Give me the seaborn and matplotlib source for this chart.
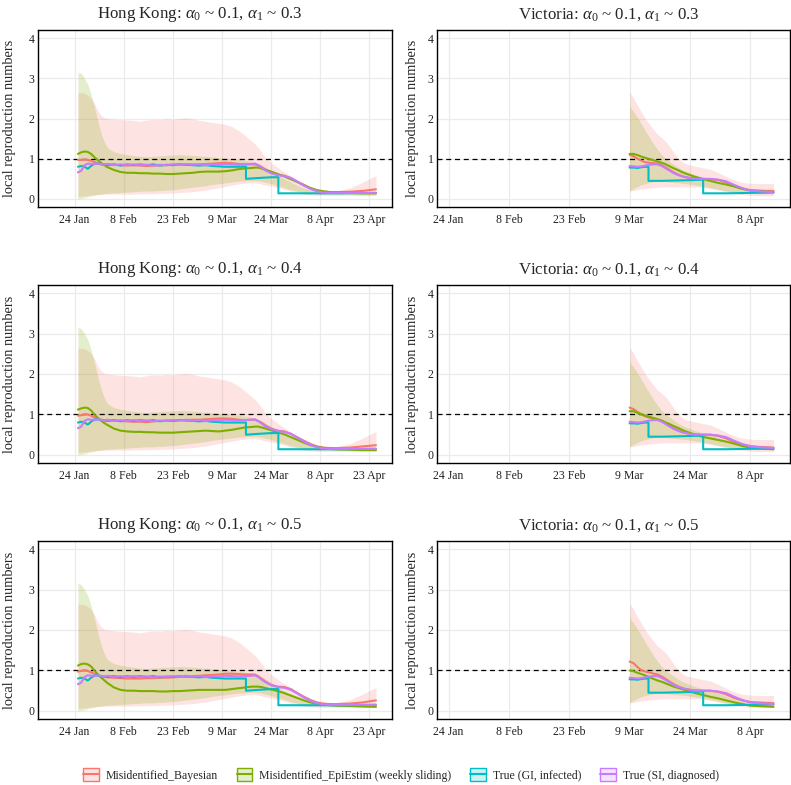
import matplotlib

matplotlib.use("Agg")

import matplotlib.dates as mdates
import matplotlib.pyplot as plt
import pandas as pd
import seaborn as sns
from matplotlib.lines import Line2D
from matplotlib.patches import Patch

SERIES = [
    "Misidentified_Bayesian",
    "Misidentified_EpiEstim (weekly sliding)",
    "True (GI, infected)",
    "True (SI, diagnosed)",
]
COLORS = ["#F8766D", "#7CAE00", "#00BFC4", "#C77CFF"]
ALPHA1 = ["0.3", "0.4", "0.5"]
XTICK_DAYS = [0, 15, 30, 45, 60, 75, 90]
XTICK_LABELS = ["24 Jan", "8 Feb", "23 Feb", "9 Mar", "24 Mar", "8 Apr", "23 Apr"]

# ---- Hong Kong: days after 24 Jan 2020 ----
HK_DAY = [1, 2, 3, 4, 5, 6, 7, 8, 9, 10, 12, 14, 16, 18, 20, 22, 24, 26, 28, 30,
          32, 34, 36, 38, 40, 42, 44, 46, 48, 50, 52, 54, 55, 56, 57, 58, 60, 62,
          64, 66, 68, 70, 72, 74, 76, 78, 80, 84, 88, 92]
HK_RED = [
    [0.97, 0.97, 0.98, 0.97, 0.95, 0.92, 0.89, 0.87, 0.86, 0.86, 0.85, 0.84, 0.83,
     0.84, 0.83, 0.82, 0.83, 0.84, 0.84, 0.85, 0.86, 0.86, 0.86, 0.86, 0.87, 0.88,
     0.89, 0.90, 0.89, 0.87, 0.86, 0.86, 0.86, 0.84, 0.80, 0.74, 0.65, 0.60, 0.58,
     0.52, 0.43, 0.35, 0.27, 0.21, 0.18, 0.17, 0.17, 0.18, 0.20, 0.24],
    [0.97, 0.98, 1.00, 1.00, 0.97, 0.93, 0.89, 0.87, 0.86, 0.85, 0.85, 0.84, 0.83,
     0.82, 0.82, 0.81, 0.83, 0.84, 0.84, 0.85, 0.86, 0.86, 0.87, 0.87, 0.88, 0.89,
     0.90, 0.90, 0.89, 0.87, 0.86, 0.87, 0.87, 0.84, 0.80, 0.74, 0.65, 0.60, 0.58,
     0.52, 0.43, 0.35, 0.27, 0.21, 0.18, 0.17, 0.17, 0.18, 0.21, 0.24],
    [0.97, 0.99, 1.00, 0.99, 0.95, 0.92, 0.88, 0.85, 0.84, 0.83, 0.82, 0.81, 0.80,
     0.80, 0.80, 0.81, 0.81, 0.82, 0.82, 0.83, 0.84, 0.85, 0.86, 0.87, 0.88, 0.89,
     0.90, 0.92, 0.92, 0.91, 0.90, 0.90, 0.90, 0.86, 0.80, 0.74, 0.64, 0.60, 0.59,
     0.54, 0.44, 0.35, 0.27, 0.21, 0.18, 0.17, 0.17, 0.18, 0.21, 0.26],
]
HK_GREEN = [
    [1.12, 1.16, 1.18, 1.17, 1.12, 1.04, 0.97, 0.90, 0.84, 0.79, 0.72, 0.67, 0.65,
     0.65, 0.64, 0.64, 0.63, 0.63, 0.62, 0.62, 0.63, 0.64, 0.65, 0.67, 0.68, 0.68,
     0.68, 0.69, 0.71, 0.74, 0.76, 0.77, 0.78, 0.78, 0.76, 0.73, 0.68, 0.62, 0.56,
     0.49, 0.42, 0.34, 0.27, 0.22, 0.19, 0.17, 0.16, 0.15, 0.14, 0.14],
    [1.12, 1.15, 1.17, 1.16, 1.10, 1.00, 0.92, 0.85, 0.79, 0.74, 0.65, 0.60, 0.58,
     0.57, 0.57, 0.56, 0.56, 0.55, 0.55, 0.55, 0.56, 0.57, 0.58, 0.59, 0.60, 0.59,
     0.58, 0.60, 0.62, 0.65, 0.68, 0.69, 0.70, 0.70, 0.68, 0.66, 0.61, 0.56, 0.51,
     0.44, 0.37, 0.30, 0.24, 0.20, 0.17, 0.15, 0.14, 0.13, 0.12, 0.12],
    [1.12, 1.16, 1.17, 1.15, 1.10, 1.00, 0.91, 0.83, 0.76, 0.69, 0.58, 0.52, 0.50,
     0.50, 0.49, 0.49, 0.49, 0.48, 0.48, 0.49, 0.49, 0.50, 0.51, 0.52, 0.52, 0.52,
     0.52, 0.52, 0.54, 0.56, 0.58, 0.60, 0.60, 0.60, 0.59, 0.57, 0.53, 0.49, 0.44,
     0.38, 0.32, 0.26, 0.21, 0.18, 0.16, 0.14, 0.13, 0.12, 0.11, 0.10],
]
HK_PURPLE = [0.66, 0.70, 0.84, 0.88, 0.87, 0.87, 0.88, 0.87, 0.85, 0.87, 0.84, 0.86,
             0.84, 0.86, 0.84, 0.85, 0.83, 0.85, 0.84, 0.86, 0.85, 0.87, 0.85, 0.86,
             0.84, 0.86, 0.85, 0.87, 0.86, 0.85, 0.86, 0.87, 0.88, 0.84, 0.78, 0.72,
             0.64, 0.59, 0.57, 0.52, 0.43, 0.33, 0.25, 0.19, 0.16, 0.15, 0.15, 0.15,
             0.15, 0.15]
HK_CYAN_DAY = [1, 2, 3, 4, 5, 6, 7, 8, 10, 12, 14, 16, 18, 20, 22, 24, 26, 28, 30,
               32, 34, 36, 38, 40, 42, 44, 46, 48, 50, 52.3, 52.3, 56, 60, 62.2,
               62.2, 70, 80, 92]
HK_CYAN = [0.80, 0.82, 0.80, 0.75, 0.82, 0.87, 0.88, 0.86, 0.84, 0.86, 0.83, 0.86,
           0.84, 0.86, 0.84, 0.86, 0.83, 0.85, 0.84, 0.86, 0.85, 0.84, 0.83, 0.84,
           0.82, 0.81, 0.80, 0.80, 0.80, 0.80, 0.50, 0.52, 0.54, 0.54, 0.14, 0.14,
           0.14, 0.15]
HK_RED_HI = [2.64, 2.64, 2.62, 2.58, 2.50, 2.38, 2.20, 2.08, 2.02, 2.00, 1.98, 1.97,
             1.96, 1.95, 1.93, 1.96, 1.98, 1.97, 1.99, 1.98, 2.00, 2.02, 1.99, 1.95,
             1.93, 1.90, 1.88, 1.85, 1.80, 1.70, 1.58, 1.44, 1.37, 1.28, 1.18, 1.05,
             0.90, 0.78, 0.67, 0.57, 0.47, 0.38, 0.30, 0.24, 0.20, 0.19, 0.20, 0.27,
             0.42, 0.58]
HK_RED_LO = [0.06, 0.07, 0.08, 0.09, 0.10, 0.10, 0.11, 0.11, 0.12, 0.12, 0.12, 0.12,
             0.12, 0.12, 0.13, 0.13, 0.13, 0.14, 0.14, 0.15, 0.16, 0.17, 0.18, 0.20,
             0.22, 0.25, 0.28, 0.31, 0.34, 0.37, 0.39, 0.40, 0.40, 0.39, 0.37, 0.35,
             0.32, 0.28, 0.24, 0.19, 0.15, 0.12, 0.10, 0.09, 0.09, 0.09, 0.09, 0.09,
             0.09, 0.09]
HK_GREEN_HI = [3.15, 3.12, 3.00, 2.85, 2.60, 2.30, 1.95, 1.65, 1.42, 1.27, 1.17, 1.13,
               1.10, 1.08, 1.06, 1.05, 1.06, 1.07, 1.08, 1.09, 1.10, 1.09, 1.08, 1.07,
               1.06, 1.04, 1.03, 1.01, 1.00, 0.98, 0.96, 0.93, 0.91, 0.88, 0.84, 0.80,
               0.70, 0.60, 0.50, 0.42, 0.34, 0.27, 0.22, 0.19, 0.17, 0.16, 0.16, 0.16,
               0.16, 0.16]
HK_GREEN_LO = [0.00, 0.01, 0.03, 0.05, 0.07, 0.09, 0.11, 0.12, 0.13, 0.14, 0.15, 0.16,
               0.17, 0.18, 0.19, 0.20, 0.20, 0.21, 0.22, 0.23, 0.25, 0.27, 0.29, 0.31,
               0.33, 0.36, 0.38, 0.40, 0.42, 0.44, 0.45, 0.46, 0.46, 0.45, 0.44, 0.42,
               0.38, 0.33, 0.28, 0.23, 0.19, 0.16, 0.14, 0.13, 0.12, 0.12, 0.11, 0.11,
               0.10, 0.10]

# ---- Victoria: days after 9 Mar 2020 ----
VIC_DAY = [0, 1, 2, 3, 4, 5, 6, 7, 8, 9, 10, 11, 12, 13, 14, 16, 18, 20, 22, 24, 26,
           28, 30, 32, 34, 35.8]
VIC_RED = [
    [1.10, 1.06, 1.00, 0.95, 0.91, 0.90, 0.89, 0.88, 0.84, 0.78, 0.72, 0.66, 0.61,
     0.57, 0.54, 0.51, 0.50, 0.49, 0.47, 0.41, 0.32, 0.26, 0.22, 0.21, 0.20, 0.20],
    [1.17, 1.13, 1.06, 1.00, 0.95, 0.92, 0.90, 0.88, 0.84, 0.78, 0.72, 0.66, 0.61,
     0.57, 0.54, 0.51, 0.50, 0.50, 0.47, 0.41, 0.32, 0.26, 0.22, 0.20, 0.19, 0.18],
    [1.22, 1.18, 1.08, 1.00, 0.97, 0.95, 0.92, 0.90, 0.85, 0.79, 0.72, 0.66, 0.61,
     0.57, 0.54, 0.51, 0.50, 0.50, 0.47, 0.41, 0.32, 0.26, 0.22, 0.21, 0.20, 0.19],
]
VIC_GREEN = [
    [1.12, 1.12, 1.09, 1.05, 1.02, 0.99, 0.96, 0.93, 0.90, 0.86, 0.81, 0.76, 0.72,
     0.67, 0.63, 0.56, 0.50, 0.45, 0.40, 0.36, 0.31, 0.25, 0.21, 0.19, 0.18, 0.17],
    [1.08, 1.08, 1.04, 1.00, 0.97, 0.94, 0.91, 0.88, 0.85, 0.80, 0.76, 0.71, 0.67,
     0.62, 0.58, 0.51, 0.45, 0.41, 0.37, 0.33, 0.28, 0.22, 0.18, 0.16, 0.15, 0.14],
    [1.00, 0.98, 0.94, 0.91, 0.87, 0.83, 0.79, 0.75, 0.72, 0.68, 0.64, 0.60, 0.57,
     0.54, 0.51, 0.45, 0.40, 0.35, 0.31, 0.26, 0.21, 0.17, 0.13, 0.12, 0.11, 0.10],
]
VIC_PURPLE = [0.82, 0.81, 0.80, 0.81, 0.83, 0.85, 0.86, 0.86, 0.82, 0.76, 0.70, 0.64,
              0.60, 0.56, 0.54, 0.50, 0.50, 0.50, 0.48, 0.44, 0.35, 0.27, 0.21, 0.19,
              0.18, 0.17]
VIC_CYAN_DAY = [0, 1, 2, 3, 4, 4.7, 4.7, 8, 12, 16, 18.3, 18.3, 24, 30, 35.8]
VIC_CYAN = [0.78, 0.78, 0.77, 0.79, 0.80, 0.80, 0.45, 0.45, 0.46, 0.47, 0.48, 0.14,
            0.14, 0.15, 0.16]
VIC_RED_HI = [2.65, 2.50, 2.32, 2.15, 1.98, 1.85, 1.72, 1.60, 1.52, 1.43, 1.30, 1.15,
              1.02, 0.93, 0.87, 0.82, 0.78, 0.74, 0.66, 0.56, 0.47, 0.41, 0.39, 0.38,
              0.38, 0.38]
VIC_RED_LO = [0.20, 0.21, 0.23, 0.25, 0.26, 0.27, 0.28, 0.29, 0.30, 0.30, 0.30, 0.30,
              0.30, 0.30, 0.30, 0.30, 0.29, 0.26, 0.22, 0.17, 0.13, 0.11, 0.09, 0.08,
              0.08, 0.08]
VIC_GREEN_HI = [2.30, 2.17, 2.02, 1.85, 1.68, 1.52, 1.36, 1.22, 1.10, 1.00, 0.93, 0.86,
                0.79, 0.73, 0.69, 0.61, 0.55, 0.50, 0.44, 0.37, 0.29, 0.23, 0.20, 0.20,
                0.20, 0.20]
VIC_GREEN_LO = [0.20, 0.26, 0.31, 0.35, 0.38, 0.41, 0.43, 0.45, 0.44, 0.43, 0.42, 0.41,
                0.40, 0.39, 0.38, 0.35, 0.32, 0.28, 0.24, 0.20, 0.16, 0.15, 0.14, 0.13,
                0.13, 0.13]

JAN24 = pd.Timestamp("2020-01-24")
MAR9 = pd.Timestamp("2020-03-09")

sns.set_theme(style="whitegrid")
plt.rcParams["font.family"] = ["Liberation Serif", "DejaVu Serif"]
plt.rcParams["mathtext.fontset"] = "custom"
plt.rcParams["mathtext.rm"] = "Liberation Serif"
plt.rcParams["mathtext.it"] = "Liberation Serif:italic"
plt.rcParams["mathtext.bf"] = "Liberation Serif:bold"


def to_dates(start, days):
    return start + pd.to_timedelta(days, unit="D")


def panel_frame(start, day, red, green, purple, cyan_day, cyan):
    parts = []
    for name, d, v in [
        (SERIES[0], day, red),
        (SERIES[1], day, green),
        (SERIES[2], cyan_day, cyan),
        (SERIES[3], day, purple),
    ]:
        parts.append(pd.DataFrame({"date": to_dates(start, d), "value": v, "series": name}))
    return pd.concat(parts, ignore_index=True)


def draw_panel(ax, title, title_x, start, day, ribbons, df, xlim_days, label_x):
    dates = to_dates(start, day)
    for (lo, hi), color in zip(ribbons, COLORS[:2]):
        ax.fill_between(dates, lo, hi, color=color, alpha=0.2, linewidth=0)
    ax.axhline(1, color="black", linestyle=(0, (4, 3)), linewidth=0.9, zorder=2)
    sns.lineplot(
        data=df, x="date", y="value", hue="series", hue_order=SERIES,
        palette=COLORS, estimator=None, sort=False, legend=False,
        linewidth=1.5, ax=ax, zorder=3,
    )
    ticks = [mdates.date2num(to_dates(JAN24, d)) for d in XTICK_DAYS]
    ax.set_xticks(ticks)
    ax.set_xticklabels(XTICK_LABELS)
    ax.set_yticks([0, 1, 2, 3, 4])
    # limits after the ticks so out-of-range ticks drop off
    ax.set_xlim(to_dates(JAN24, xlim_days[0]), to_dates(JAN24, xlim_days[1]))
    ax.set_ylim(-0.2, 4.2)
    ax.grid(True, color="#EBEBEB", linewidth=0.9)
    ax.set_axisbelow(True)
    for sp in ax.spines.values():
        sp.set_color("black")
        sp.set_linewidth(1.0)
    ax.tick_params(length=0, labelsize=8.5, colors="#222222", pad=2.5)
    ax.tick_params(axis="x", pad=5)
    ax.set_xlabel("")
    ax.set_ylabel("local reproduction numbers", fontsize=10.4)
    ax.yaxis.set_label_coords(label_x, 0.5)
    ax.set_title(title, fontsize=12.2, pad=8.5, x=title_x)


fig = plt.figure(figsize=(7.91, 7.85), dpi=100)
W, H = 791, 785
rows_px = [(30, 207), (285, 463), (541, 719)]
cols_px = [(38, 392), (437, 790)]

for i, a1 in enumerate(ALPHA1):
    top, bot = rows_px[i]
    # Hong Kong
    l, r = cols_px[0]
    ax = fig.add_axes([l / W, 1 - bot / H, (r - l) / W, (bot - top) / H])
    df = panel_frame(JAN24, HK_DAY, HK_RED[i], HK_GREEN[i], HK_PURPLE, HK_CYAN_DAY, HK_CYAN)
    draw_panel(
        ax, rf"Hong Kong: $\alpha_0$ ~ 0.1, $\alpha_1$ ~ {a1}", 0.458, JAN24, HK_DAY,
        [(HK_RED_LO, HK_RED_HI), (HK_GREEN_LO, HK_GREEN_HI)], df, (-11.2, 96.9), -0.062,
    )
    # Victoria
    l, r = cols_px[1]
    ax = fig.add_axes([l / W, 1 - bot / H, (r - l) / W, (bot - top) / H])
    df = panel_frame(MAR9, VIC_DAY, VIC_RED[i], VIC_GREEN[i], VIC_PURPLE, VIC_CYAN_DAY, VIC_CYAN)
    draw_panel(
        ax, rf"Victoria: $\alpha_0$ ~ 0.1, $\alpha_1$ ~ {a1}", 0.487, MAR9, VIC_DAY,
        [(VIC_RED_LO, VIC_RED_HI), (VIC_GREEN_LO, VIC_GREEN_HI)], df, (-2.9, 84.9), -0.052,
    )

handles = [
    (Patch(facecolor=c, alpha=0.2, edgecolor="none"),
     Patch(facecolor="none", edgecolor=c, linewidth=1.0),
     Line2D([], [], color=c, linewidth=1.5))
    for c in COLORS
]
fig.legend(
    handles, SERIES, loc="center", bbox_to_anchor=(0.507, 1 - 775 / H), ncol=4,
    frameon=False, fontsize=8.5, handlelength=1.3, handleheight=1.3,
    handletextpad=0.6, columnspacing=1.6,
)

fig.savefig("out.png", dpi=100)
